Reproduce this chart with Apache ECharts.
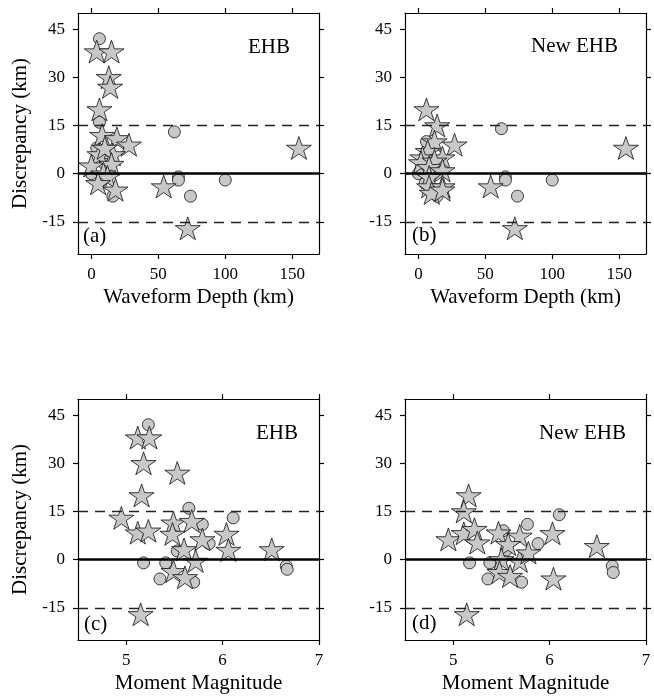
<!DOCTYPE html>
<html>
<head>
<meta charset="utf-8">
<script src="https://cdn.jsdelivr.net/npm/echarts@6/dist/echarts.min.js"></script>
<style>html,body{margin:0;padding:0;background:#fff}#c{width:654px;height:697px}</style>
</head>
<body>
<div id="c"></div>
<script>
// ---- data (discrepancy in km) ----
const depthTicks = [0, 50, 100, 150];
const magTicks = [5, 6, 7];
const discTicks = [-15, 0, 15, 30, 45];

// (a) EHB vs waveform depth
const depthEhbStars = [[4,38],[15,38],[13,30],[14,27],[6,20],[8,12],[19,11],[28,9],[6,6],[16,6],[10,8],[0,2.5],[15,3],[9,0],[12,-1],[5,-3],[18,-5],[54,-4],[72,-17],[155,8]];
const depthEhbCircles = [[6,42],[6,16],[62,13],[4,8],[10,3],[0,0],[65,-1],[65,-2],[74,-7],[100,-2],[7,-3],[16,-7]];
// (b) New EHB vs waveform depth
const depthNewStars = [[6,20],[14,15],[27,9],[12,10],[7,7],[3,5],[18,5],[2,3.5],[12,4],[8,2],[18,1],[8,-1],[8,-4],[18,-4],[10,-6],[18,-5],[54,-4],[72,-17],[155,8]];
const depthNewCircles = [[0,0],[62,14],[65,-1],[65,-2],[74,-7],[100,-2],[6,10],[8,4],[6,3],[5,-3],[14,-7]];
// (c) EHB vs moment magnitude
const magEhbStars = [[5.12,38],[5.24,38],[5.18,30],[5.53,27],[5.16,20],[4.95,13],[5.12,8.4],[5.23,9],[5.49,11.5],[5.68,12],[5.48,8],[5.79,6.3],[6.04,8],[6.06,3],[5.6,3.2],[5.72,-0.4],[5.49,-3.6],[5.61,-5.5],[6.51,3.2],[5.15,-17]];
const magEhbCircles = [[5.23,42],[5.65,16],[6.11,13],[5.79,11],[5.18,-1],[5.41,-1],[5.35,-6],[5.7,-7],[6.66,-2],[6.67,-3],[5.86,5],[5.53,2.7]];
// (d) New EHB vs moment magnitude
const magNewStars = [[5.16,20],[5.11,15],[4.95,6.3],[5.11,8.2],[5.22,9.5],[5.25,5.3],[5.47,8.4],[5.69,7.4],[5.57,4.8],[6.03,8.2],[6.49,4.2],[5.5,0.1],[5.69,-0.4],[5.48,-3.9],[5.59,-5.1],[6.04,-5.9],[5.14,-17],[5.78,2.2]];
const magNewCircles = [[6.1,14],[5.77,11],[5.52,9],[5.88,5],[5.55,3],[5.17,-1],[5.38,-1],[5.36,-6],[5.71,-7],[6.65,-2],[6.66,-4]];

const panelTitles = ['EHB', 'New EHB', 'EHB', 'New EHB'];
const panelLetters = ['(a)', '(b)', '(c)', '(d)'];
const xTitles = ['Waveform Depth (km)', 'Waveform Depth (km)', 'Moment Magnitude', 'Moment Magnitude'];
const yTitle = 'Discrepancy (km)';

// ---- layout/style ----
const FONT = '"Liberation Serif", "DejaVu Serif", serif';
const FILL = '#c8c8c8';
const STAR = 'path://M0,-50 L11.23,-15.45 L47.55,-15.45 L18.17,5.9 L29.39,40.45 L0,19.1 L-29.39,40.45 L-18.17,5.9 L-47.55,-15.45 L-11.23,-15.45 Z';
const grids = [
  {left: 78, top: 13, width: 241, height: 241},
  {left: 405, top: 13, width: 241, height: 241},
  {left: 78, top: 399, width: 241, height: 241},
  {left: 405, top: 399, width: 241, height: 241}
];
const xRanges = [[-10,170],[-10,170],[4.5,7],[4.5,7]];
const xTickSets = [depthTicks, depthTicks, magTicks, magTicks];
const stars = [depthEhbStars, depthNewStars, magEhbStars, magNewStars];
const circles = [depthEhbCircles, depthNewCircles, magEhbCircles, magNewCircles];

const lineSt = {color: '#000', width: 1.2};
const xAxes = [], yAxes = [], series = [], graphics = [];
grids.forEach((g, i) => {
  const [mn, mx] = xRanges[i];
  const ticks = xTickSets[i];
  xAxes.push({
    type: 'value', gridIndex: i, position: 'bottom', min: mn, max: mx,
    axisLine: {show: true, onZero: false, lineStyle: lineSt},
    axisTick: {show: true, length: 5, customValues: ticks, lineStyle: lineSt},
    axisLabel: {show: true, customValues: ticks, margin: 12, color: '#000', fontFamily: FONT, fontSize: 17},
    splitLine: {show: false},
    name: xTitles[i], nameLocation: 'middle', nameGap: 33,
    nameTextStyle: {color: '#000', fontFamily: FONT, fontSize: 21}
  });
  xAxes.push({
    type: 'value', gridIndex: i, position: 'top', min: mn, max: mx,
    axisLine: {show: true, onZero: false, lineStyle: lineSt},
    axisTick: {show: true, length: 5, customValues: ticks, lineStyle: lineSt},
    axisLabel: {show: false}, splitLine: {show: false}
  });
  yAxes.push({
    type: 'value', gridIndex: i, position: 'left', min: -25, max: 50,
    axisLine: {show: true, onZero: false, lineStyle: lineSt},
    axisTick: {show: true, length: 5, customValues: discTicks, lineStyle: lineSt},
    axisLabel: {show: true, customValues: discTicks, margin: 13, color: '#000', fontFamily: FONT, fontSize: 17},
    splitLine: {show: false},
    name: (i % 2 === 0) ? yTitle : '', nameLocation: 'middle', nameGap: 47,
    nameTextStyle: {color: '#000', fontFamily: FONT, fontSize: 21}
  });
  yAxes.push({
    type: 'value', gridIndex: i, position: 'right', min: -25, max: 50,
    axisLine: {show: true, onZero: false, lineStyle: lineSt},
    axisTick: {show: true, length: 5, customValues: discTicks, lineStyle: lineSt},
    axisLabel: {show: false}, splitLine: {show: false}
  });
  const xi = i * 2, yi = i * 2;
  series.push({
    type: 'scatter', xAxisIndex: xi, yAxisIndex: yi, data: [], z: 1, silent: true,
    markLine: {
      silent: true, symbol: ['none', 'none'], label: {show: false},
      data: [
        {yAxis: 15, lineStyle: {type: [10, 7], color: '#222', width: 1.3}},
        {yAxis: -15, lineStyle: {type: [10, 7], color: '#222', width: 1.3}},
        {yAxis: 0, lineStyle: {type: 'solid', color: '#000', width: 2.6}}
      ]
    }
  });
  series.push({
    type: 'scatter', xAxisIndex: xi, yAxisIndex: yi, data: circles[i], z: 3,
    symbol: 'circle', symbolSize: 12,
    itemStyle: {color: FILL, borderColor: '#111', borderWidth: 0.8, opacity: 1}
  });
  series.push({
    type: 'scatter', xAxisIndex: xi, yAxisIndex: yi, data: stars[i], z: 4,
    symbol: STAR, symbolSize: [25, 24], symbolKeepAspect: true,
    itemStyle: {color: FILL, borderColor: '#111', borderWidth: 0.8, opacity: 1}
  });
});

const titlePos = [[290, 47], [618, 46], [298, 433], [626, 433]];
const letterPos = [[83, 236], [412, 235], [84, 624], [412, 623]];
panelTitles.forEach((t, i) => {
  graphics.push({type: 'text', x: titlePos[i][0], y: titlePos[i][1], z: 10,
    style: {text: t, fill: '#000', font: '21px ' + FONT, align: 'right', verticalAlign: 'middle'}});
  graphics.push({type: 'text', x: letterPos[i][0], y: letterPos[i][1], z: 10,
    style: {text: panelLetters[i], fill: '#000', font: '21px ' + FONT, align: 'left', verticalAlign: 'middle'}});
});

const chart = echarts.init(document.getElementById('c'), null, {renderer: 'canvas'});
chart.setOption({
  animation: false,
  backgroundColor: '#fff',
  grid: grids.map(g => Object.assign({containLabel: false}, g)),
  xAxis: xAxes,
  yAxis: yAxes,
  series: series,
  graphic: graphics
});
</script>
</body>
</html>
